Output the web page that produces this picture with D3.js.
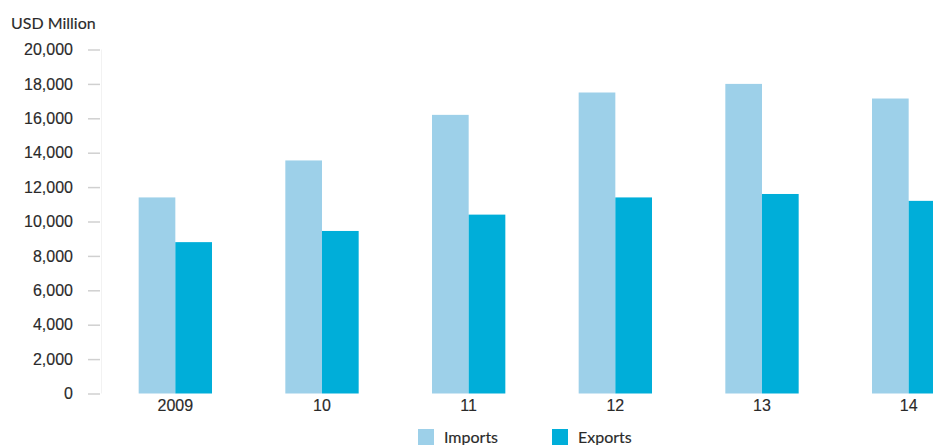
<!DOCTYPE html>
<html>
<head>
<meta charset="utf-8">
<script src="https://cdn.jsdelivr.net/npm/d3@7"></script>
<style>
  html, body { margin: 0; padding: 0; background: #fff; }
  svg { display: block; font-family: Lato, "Open Sans", sans-serif; }
  svg text { stroke: #2a2a2a; stroke-width: 0.15px; }
</style>
</head>
<body>
<svg id="chart" width="933" height="445"></svg>
<script>
const categories = ["2009", "10", "11", "12", "13", "14"];
const imports = [11400, 13550, 16200, 17500, 18000, 17150];
const exports_ = [8800, 9450, 10400, 11400, 11600, 11200];
const seriesNames = ["Imports", "Exports"];
const yTicks = [0, 2000, 4000, 6000, 8000, 10000, 12000, 14000, 16000, 18000, 20000];
const colors = ["#9dd0e9", "#00aed9"];
const textColor = "#2a2a2a";

const svg = d3.select("#chart");
const x = d3.scaleBand().domain(categories).range([102, 982]).paddingInner(0.5).paddingOuter(0.25);
const xs = d3.scaleBand().domain(seriesNames).range([0, x.bandwidth()]);
const y = d3.scaleLinear().domain([0, 20000]).range([393.5, 49.5]);

// faint axis line
svg.append("line").attr("x1", 101.5).attr("x2", 101.5).attr("y1", y(20000)).attr("y2", y(0))
  .attr("stroke", "#f2f2f2").attr("stroke-width", 1);

const yAxis = d3.axisLeft(y).tickValues(yTicks).tickSize(12).tickPadding(15)
  .tickFormat(d3.format(","));
const gy = svg.append("g").attr("transform", "translate(100,0)").call(yAxis);
gy.select(".domain").remove();
gy.selectAll(".tick line").attr("stroke", "#d0d0d0").attr("stroke-width", 1.5);
gy.selectAll(".tick text").attr("fill", textColor).attr("font-size", 16);

svg.append("text").attr("x", 11).attr("y", 29).attr("fill", textColor).attr("font-size", 16)
  .text("USD Million");

const data = categories.map((c, i) => ({ c, vals: [imports[i], exports_[i]] }));
const groups = svg.append("g").selectAll("g").data(data).join("g")
  .attr("transform", d => `translate(${x(d.c)},0)`);
groups.selectAll("rect").data(d => d.vals.map((v, j) => ({ v, s: seriesNames[j], j })))
  .join("rect")
  .attr("x", d => xs(d.s))
  .attr("width", xs.bandwidth())
  .attr("y", d => y(d.v))
  .attr("height", d => y(0) - y(d.v))
  .attr("fill", d => colors[d.j]);

const xAxis = d3.axisBottom(x).tickSize(0).tickPadding(6);
const gx = svg.append("g").attr("transform", `translate(0,${y(0)})`).call(xAxis);
gx.select(".domain").remove();
gx.selectAll(".tick text").attr("fill", textColor).attr("font-size", 16);

// legend
const legendX = [418, 552];
const lg = svg.append("g").selectAll("g").data(seriesNames).join("g")
  .attr("transform", (d, i) => `translate(${legendX[i]},429)`);
lg.append("rect").attr("width", 16).attr("height", 16).attr("fill", (d, i) => colors[i]);
lg.append("text").attr("x", 26).attr("y", 14).attr("fill", textColor).attr("font-size", 16).text(d => d);
</script>
</body>
</html>
